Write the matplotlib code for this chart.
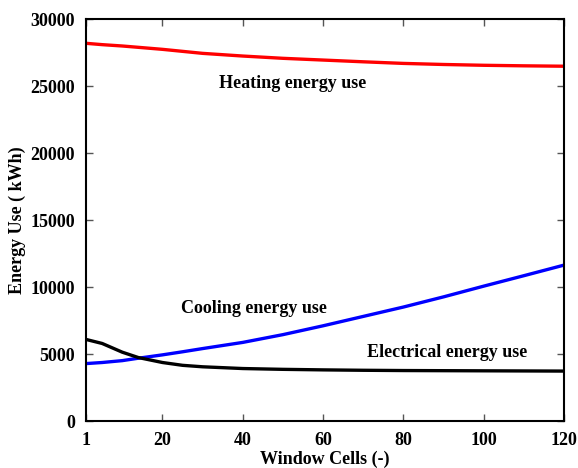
import matplotlib.pyplot as plt
import numpy as np

plt.rcParams["font.family"] = ["Liberation Serif", "DejaVu Serif"]
plt.rcParams["font.weight"] = "bold"

cells = [1, 5, 10, 14, 20, 25, 30, 40, 50, 60, 70, 80, 90, 100, 110, 120]
heating = [28200, 28100, 28000, 27900, 27750, 27600, 27450, 27250, 27080, 26950, 26820, 26700, 26620, 26560, 26520, 26490]
cooling = [4300, 4380, 4520, 4700, 4950, 5180, 5420, 5880, 6460, 7120, 7820, 8520, 9280, 10080, 10860, 11650]
electrical = [6100, 5800, 5150, 4750, 4380, 4170, 4060, 3930, 3870, 3830, 3800, 3780, 3770, 3760, 3750, 3740]

fig = plt.figure(figsize=(5.78, 4.68), dpi=100)
ax = fig.add_axes([0.149, 0.100, 0.827, 0.859])

ax.plot(cells, heating, color="#ff0000", lw=2.4)
ax.plot(cells, cooling, color="#0000ff", lw=2.4)
ax.plot(cells, electrical, color="black", lw=2.4)

ax.text(52.5, 25200, "Heating energy use", ha="center", va="center", fontsize=13, fontweight="bold")
ax.text(24.5, 8400, "Cooling energy use", ha="left", va="center", fontsize=13, fontweight="bold")
ax.text(71, 5150, "Electrical energy use", ha="left", va="center", fontsize=13, fontweight="bold")

ax.set_xlim(1, 120)
ax.set_ylim(0, 30000)
ax.set_xticks([1, 20, 40, 60, 80, 100, 120])
ax.set_yticks(range(0, 30001, 5000))
ax.tick_params(direction="in", top=True, right=True, labelsize=13, length=5, width=1, color="#555555", pad=8)
for s in ax.spines.values():
    s.set_linewidth(1.5)

ax.set_xlabel("Window Cells (-)", fontsize=13, fontweight="bold", labelpad=1)
ax.set_ylabel("Energy Use ( kWh)", fontsize=13, fontweight="bold", labelpad=3)

fig.savefig("out.png", dpi=100)
